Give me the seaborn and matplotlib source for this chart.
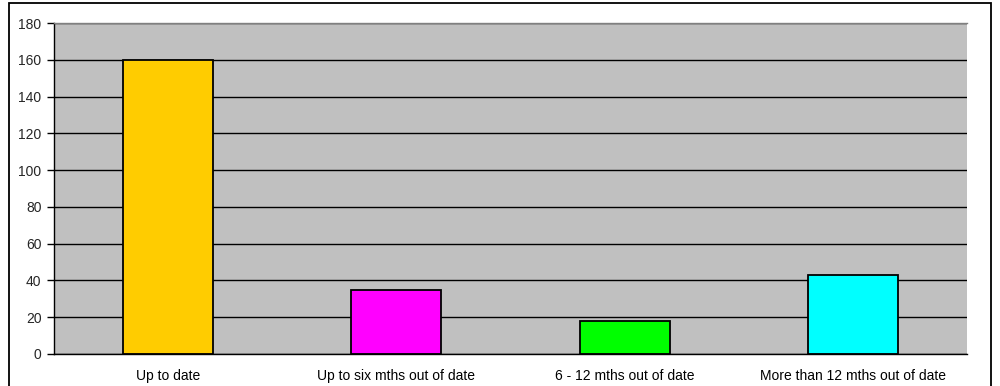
import matplotlib
matplotlib.use("Agg")
import matplotlib.pyplot as plt
from matplotlib.patches import Rectangle
from matplotlib.ticker import MultipleLocator, FixedLocator, NullFormatter
import seaborn as sns
import pandas as pd

categories = ["Up to date", "Up to six mths out of date",
              "6 - 12 mths out of date", "More than 12 mths out of date"]
counts = [160, 35, 18, 43]
bar_colors = ["#FFCC00", "#FF00FF", "#00FF00", "#00FFFF"]

sns.set_style("white")
plt.rcParams["font.family"] = ["Liberation Sans", "DejaVu Sans"]

df = pd.DataFrame({"category": categories, "count": counts})

fig = plt.figure(figsize=(10, 3.86), dpi=100)
ax = fig.add_axes([0.054, 0.083, 0.913, 0.857])
ax.set_facecolor("#C0C0C0")
ax.set_axisbelow(True)

sns.barplot(data=df, x="category", y="count", hue="category",
            palette=bar_colors, order=categories, hue_order=categories,
            width=0.395, edgecolor="black", linewidth=1.3, legend=False,
            dodge=False, saturation=1, ax=ax)

ax.set_xlim(-0.5, len(categories) - 0.5)
ax.set_ylim(0, 180)
ax.yaxis.set_major_locator(MultipleLocator(20))
ax.grid(axis="y", color="black", linewidth=1.0)
ax.grid(axis="x", visible=False)

# category labels centred, ticks on the category boundaries
ax.tick_params(axis="x", which="major", length=0, pad=11, labelsize=10, colors="black")
ax.xaxis.set_minor_locator(FixedLocator([i - 0.5 for i in range(len(categories) + 1)]))
ax.xaxis.set_minor_formatter(NullFormatter())
ax.tick_params(axis="x", which="minor", length=5, width=1, color="black", direction="out")
ax.tick_params(axis="y", length=5, width=1, color="black", direction="out",
               labelsize=10, pad=4, left=True)

ax.set_xlabel("")
ax.set_ylabel("")

for side in ("left", "bottom"):
    ax.spines[side].set_color("black")
    ax.spines[side].set_linewidth(1.0)
ax.spines["top"].set_color("#808080")
ax.spines["top"].set_linewidth(1.0)
ax.spines["right"].set_visible(False)

# chart-area frame
fig.add_artist(Rectangle((0.0085, -0.05), 0.982, 1.043, transform=fig.transFigure,
                         fill=False, edgecolor="black", linewidth=1.3))

fig.savefig("out.png", dpi=100)
